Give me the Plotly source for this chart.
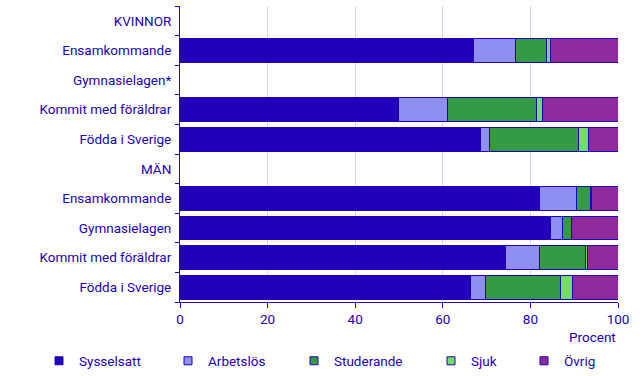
import plotly.graph_objects as go

row_keys = ["K0", "K1", "K2", "K3", "K4", "M0", "M1", "M2", "M3", "M4"]
row_labels = ["KVINNOR", "Ensamkommande", "Gymnasielagen*", "Kommit med föräldrar", "Födda i Sverige",
              "MÄN", "Ensamkommande", "Gymnasielagen", "Kommit med föräldrar", "Födda i Sverige"]

series_names = ["Sysselsatt", "Arbetslös", "Studerande", "Sjuk", "Övrig"]
sysselsatt = [None, 67.1, None, 49.9, 68.7, None, 82.1, 84.6, 74.4, 66.4]
arbetslos  = [None, 9.5,  None, 11.1, 1.9,  None, 8.4,  2.7,  7.6,  3.3]
studerande = [None, 7.1,  None, 20.4, 20.3, None, 3.2,  2.0,  10.6, 17.1]
sjuk       = [None, 0.8,  None, 1.3,  2.3,  None, 0.3,  0.0,  0.4,  2.8]
ovrig      = [None, 15.5, None, 17.3, 6.8,  None, 6.0,  10.7, 7.0,  10.4]
series_values = [sysselsatt, arbetslos, studerande, sjuk, ovrig]

colors = ["#2200BB", "#8F8FF2", "#349A46", "#74DC6C", "#8E2A9C"]
text_color = "#2200BB"
FONT = "Roboto"
FS = 13.5

fig = go.Figure()
for i, (name, vals, col) in enumerate(zip(series_names, series_values, colors)):
    lg = "legend" if i == 0 else f"legend{i+1}"
    fig.add_trace(go.Bar(
        y=row_keys, x=vals, name=name, orientation="h",
        marker=dict(color=col, line=dict(color="#2200BB", width=1)),
        showlegend=False, legendgroup=name,
    ))
    # legend-only entry with a small square symbol
    fig.add_trace(go.Scatter(
        x=[None], y=[None], mode="markers", name=name,
        marker=dict(symbol="square", size=8, color=col, line=dict(color="#2200BB", width=1)),
        legend=lg, legendgroup=name, hoverinfo="skip",
    ))

# reference text start positions (px) of legend entries
legend_text_px = [71, 200, 326, 463, 556]
layout_legends = {}
for i, tx in enumerate(legend_text_px):
    key = "legend" if i == 0 else f"legend{i+1}"
    layout_legends[key] = dict(
        x=(tx - 32) / 643, xref="container", y=(376 - 361) / 376, yref="container",
        xanchor="left", yanchor="middle",
        orientation="h", font=dict(family=FONT, size=FS, color=text_color),
        bgcolor="rgba(0,0,0,0)", itemwidth=30,
    )

fig.update_layout(
    width=643, height=376,
    margin=dict(l=180, r=25, t=6, b=74),
    paper_bgcolor="white", plot_bgcolor="white",
    barmode="stack", bargap=0.19,
    font=dict(family=FONT, size=FS, color=text_color),
    showlegend=True,
    **layout_legends,
)
fig.update_xaxes(
    range=[0, 100], tickvals=[0, 20, 40, 60, 80, 100],
    showgrid=True, gridcolor="#D8D4F0", gridwidth=1,
    showline=True, linecolor="#2200BB", linewidth=1,
    ticks="outside", ticklen=5, tickcolor="#2200BB",
    zeroline=False, fixedrange=True,
)
fig.update_yaxes(
    type="category", categoryorder="array", categoryarray=row_keys,
    autorange="reversed",
    tickmode="array", tickvals=row_keys, ticktext=row_labels,
    tickson="boundaries", ticks="outside", ticklen=4, tickcolor="#2200BB",
    ticklabelstandoff=5,
    showline=True, linecolor="#2200BB", linewidth=1,
    showgrid=False, zeroline=False, fixedrange=True,
)
plot_top, plot_bottom = 6, 376 - 74
fig.add_annotation(
    text="Procent", x=1, xref="paper", xanchor="right",
    y=(plot_bottom - 337) / (plot_bottom - plot_top), yref="paper", yanchor="middle",
    showarrow=False, xshift=0,
    font=dict(family=FONT, size=FS, color=text_color),
)

fig.write_html("out.html", config={"displayModeBar": False},
               post_script="document.body.style.margin='0';document.body.style.padding='0';")
